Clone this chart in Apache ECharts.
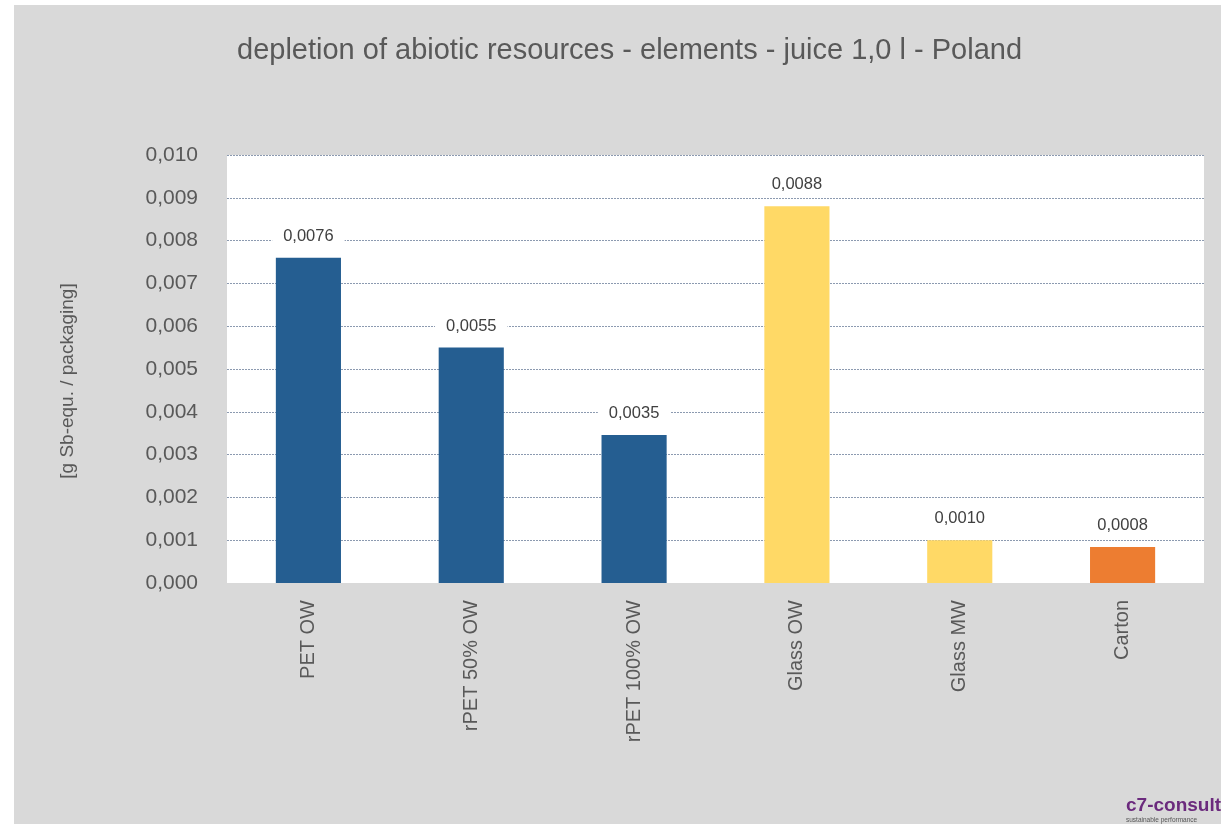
<!DOCTYPE html>
<html>
<head>
<meta charset="utf-8">
<script src="https://cdn.jsdelivr.net/npm/echarts@6/dist/echarts.min.js"></script>
<style>
html,body{margin:0;padding:0;background:#fff;}
#c{position:absolute;left:14px;top:5px;width:1207px;height:819px;}
</style>
</head>
<body>
<div id="c"></div>
<script>
const titleText = 'depletion of abiotic resources - elements - juice 1,0 l - Poland';
const yAxisName = '[g Sb-equ. / packaging]';
const categories = ['PET OW', 'rPET 50% OW', 'rPET 100% OW', 'Glass OW', 'Glass MW', 'Carton'];
const values = [0.0076, 0.0055, 0.00346, 0.0088, 0.0010, 0.00084];
const materials = ['PET', 'PET', 'PET', 'Glass', 'Glass', 'Carton'];
const materialColors = { PET: '#255E91', Glass: '#FFD966', Carton: '#ED7D31' };

const fontFam = '"Liberation Sans", Arial, sans-serif';
const chart = echarts.init(document.getElementById('c'));
chart.setOption({
  backgroundColor: '#d9d9d9',
  animation: false,
  title: {
    text: titleText,
    left: 218,
    top: 26,
    textStyle: { fontFamily: fontFam, fontSize: 29, fontWeight: 'normal', color: '#595959' }
  },
  grid: { left: 213, top: 150, width: 977, height: 428, show: true, backgroundColor: '#ffffff', borderWidth: 0 },
  xAxis: {
    type: 'category',
    data: categories,
    axisLine: { show: true, lineStyle: { color: '#d9d9d9', width: 1 } },
    axisTick: { show: false },
    axisLabel: { rotate: 90, margin: 17, fontFamily: fontFam, fontSize: 20, color: '#595959' }
  },
  yAxis: {
    type: 'value',
    min: 0, max: 0.010, interval: 0.001,
    name: yAxisName,
    nameLocation: 'middle',
    nameGap: 150,
    nameRotate: 90,
    nameTextStyle: { fontFamily: fontFam, fontSize: 19, color: '#595959', padding: [0, 24, 0, 0] },
    axisLine: { show: false },
    axisTick: { show: false },
    axisLabel: {
      margin: 29, fontFamily: fontFam, fontSize: 21, color: '#595959',
      formatter: v => v.toFixed(3).replace('.', ',')
    },
    splitLine: { show: true, lineStyle: { color: '#8c9ab0', type: [2, 1], width: 1 } }
  },
  series: [{
    type: 'bar',
    barWidth: '40%',
    data: values.map((v, i) => ({ value: v, itemStyle: { color: materialColors[materials[i]] } })),
    label: {
      show: true, position: 'top', distance: 10,
      backgroundColor: '#ffffff', padding: [3, 11],
      fontFamily: fontFam, fontSize: 16.5, color: '#404040',
      formatter: p => p.value.toFixed(4).replace('.', ',')
    }
  }],
  graphic: [
    { type: 'text', left: 1112, top: 791, style: { text: 'c7-consult', fill: '#6B2A7D', font: 'bold 19px "Liberation Sans", sans-serif' } },
    { type: 'text', left: 1112, top: 812, style: { text: 'sustainable performance', fill: '#555555', font: '6.5px "Liberation Sans", sans-serif' } }
  ]
});
</script>
</body>
</html>
